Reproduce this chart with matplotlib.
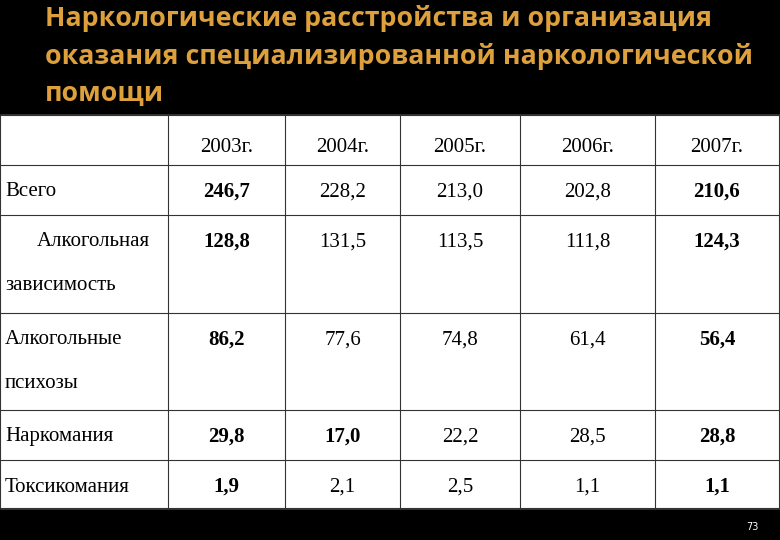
import matplotlib
matplotlib.use("Agg")
import matplotlib.pyplot as plt

years = ["2003г.", "2004г.", "2005г.", "2006г.", "2007г."]
rows = [["Всего"], ["Алкогольная", "зависимость"], ["Алкогольные", "психозы"], ["Наркомания"], ["Токсикомания"]]
values = [
    ["246,7", "228,2", "213,0", "202,8", "210,6"],
    ["128,8", "131,5", "113,5", "111,8", "124,3"],
    ["86,2", "77,6", "74,8", "61,4", "56,4"],
    ["29,8", "17,0", "22,2", "28,5", "28,8"],
    ["1,9", "2,1", "2,5", "1,1", "1,1"],
]
bold = [
    [1, 0, 0, 0, 1],
    [1, 0, 0, 0, 1],
    [1, 0, 0, 0, 1],
    [1, 1, 0, 0, 1],
    [1, 0, 0, 0, 1],
]
title = ["Наркологические расстройства и организация",
         "оказания специализированной наркологической",
         "помощи"]

fig = plt.figure(figsize=(7.8, 5.4), dpi=100, facecolor="black")
ax = fig.add_axes([0, 0, 1, 1])
ax.set_xlim(0, 780); ax.set_ylim(540, 0); ax.axis("off")
ax.set_facecolor("black")

tc = "#DDA03C"
for i, t in enumerate(title):
    ax.text(45, 18 + i * 38, t, color=tc, fontsize=19.3, fontweight="bold",
            family="Open Sans", va="center", ha="left")

top, bot = 115, 508
colx = [0, 168, 285, 400, 520, 655, 779]
rowy = [115, 165, 215, 313, 410, 460, 508]
ax.add_patch(plt.Rectangle((0, top), 780, bot - top, color="white", zorder=1))
lc = "#333333"
for y in rowy:
    ax.plot([0, 779], [y, y], color=lc, lw=0.8, zorder=2)
for x in colx:
    ax.plot([x, x], [top, bot], color=lc, lw=0.8, zorder=2)

fs = 15
ff = "Liberation Serif"
for j, yr in enumerate(years):
    ax.text((colx[j + 1] + colx[j + 2]) / 2, 147, yr, fontsize=fs, family=ff,
            ha="center", va="center", zorder=3)
for i, lab in enumerate(rows):
    y0 = rowy[i + 1]
    ly = y0 + 27
    if len(lab) == 1:
        ax.text(5, ly, lab[0], fontsize=fs, family=ff, va="center", zorder=3)
    else:
        x0 = 37 if i == 1 else 5
        ax.text(x0, ly, lab[0], fontsize=fs, family=ff, va="center", zorder=3)
        ax.text(5, ly + 43, lab[1], fontsize=fs, family=ff, va="center", zorder=3)
    for j, v in enumerate(values[i]):
        ax.text((colx[j + 1] + colx[j + 2]) / 2, ly, v, fontsize=fs, family=ff,
                ha="center", va="center", zorder=3,
                fontweight="bold" if bold[i][j] else "normal")

ax.text(752, 527, "73", color="white", fontsize=7, ha="center", va="center")
fig.savefig("out.png", dpi=100, facecolor="black")
